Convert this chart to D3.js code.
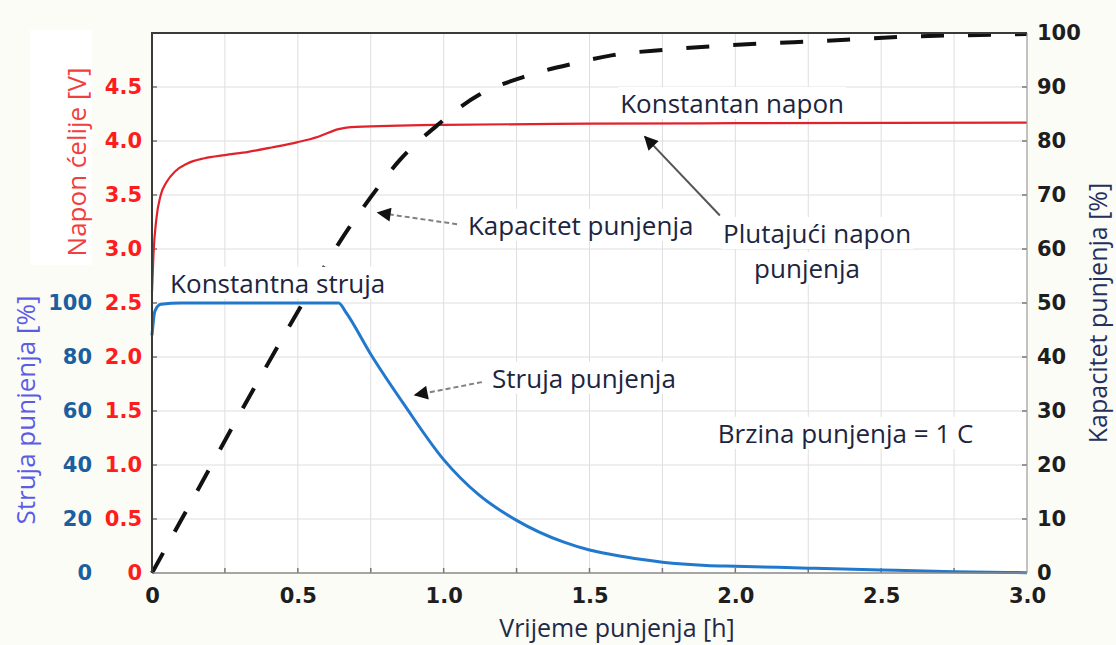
<!DOCTYPE html>
<html>
<head>
<meta charset="utf-8">
<script src="https://cdn.jsdelivr.net/npm/d3@7"></script>
<style>
  body { margin: 0; background: #fcfcf7; }
  svg { display: block; }
</style>
</head>
<body>
<div id="content"></div>
<script>
// napon celije [V] u ovisnosti o vremenu [h]
const voltageTime = [0, 0.005, 0.015, 0.03, 0.05, 0.08, 0.12, 0.18, 0.25, 0.33, 0.41, 0.5, 0.57, 0.64, 0.7, 1.0, 1.5, 2.0, 3.0];
const voltageValues = [2.6, 2.95, 3.28, 3.5, 3.62, 3.72, 3.79, 3.84, 3.87, 3.9, 3.94, 3.99, 4.04, 4.11, 4.13, 4.15, 4.16, 4.165, 4.17];

// struja punjenja [%]
const currentTime = [0, 0.01, 0.03, 0.1, 0.64, 0.665, 0.75, 0.87, 1.0, 1.12, 1.25, 1.41, 1.5, 1.62, 1.75, 1.9, 2.0, 2.25, 2.5, 2.75, 3.0];
const currentValues = [88, 97, 99.5, 100, 100, 96.5, 81, 61.5, 42, 29, 19.5, 11.5, 8.5, 6, 4, 2.8, 2.5, 1.8, 1.1, 0.5, 0.1];

// kapacitet punjenja [%]
const capacityTime = [0, 0.1, 0.2, 0.3, 0.47, 0.55, 0.64, 0.75, 0.85, 0.98, 1.12, 1.27, 1.45, 1.58, 1.76, 1.94, 2.11, 2.29, 2.46, 2.63, 2.8, 3.0];
const capacityValues = [0, 9.8, 19.6, 29.4, 45.6, 53, 61, 69.6, 76.5, 83, 88.5, 91.8, 94.4, 95.9, 96.9, 97.6, 98.1, 98.5, 99, 99.4, 99.6, 99.8];

// oznake osi
const timeTicks = [0, 0.5, 1.0, 1.5, 2.0, 2.5, 3.0];
const voltTicks = [0, 0.5, 1.0, 1.5, 2.0, 2.5, 3.0, 3.5, 4.0, 4.5];
const currentTicks = [0, 20, 40, 60, 80, 100];
const capacityTicks = [0, 10, 20, 30, 40, 50, 60, 70, 80, 90, 100];

// tekstovi na grafu (polozaj u [h] i [% kapaciteta])
const labelTexts = ["Konstantan napon", "Kapacitet punjenja", "Plutajući napon", "punjenja", "Konstantna struja", "Struja punjenja", "Brzina punjenja = 1 C"];
const labelTime = [1.605, 1.083, 1.958, 2.246, 0.062, 1.166, 1.94];
const labelCap = [85.2, 62.6, 61.1, 54.6, 51.9, 34.3, 24.1];
const labelAnchor = ["start", "start", "start", "middle", "start", "start", "start"];

// strelice: [t, vrijednost] od -> do
const arrowFrom = [[1.046, 64.6], [1.131, 70.7], [1.947, 3.31]];
const arrowTo = [[0.775, 66.7], [0.902, 65.9], [1.69, 4.04]];
const arrowAxis = ["cap", "cur", "volt"];
const arrowDashed = [true, true, false];

const width = 1116;
const height = 645;
const plotLeft = 152, plotRight = 1027, plotTop = 33, plotBottom = 573;

const x = d3.scaleLinear().domain([0, 3]).range([plotLeft, plotRight]);
const yVolt = d3.scaleLinear().domain([0, 5]).range([plotBottom, plotTop]);
const yCur = d3.scaleLinear().domain([0, 200]).range([plotBottom, plotTop]);
const yCap = d3.scaleLinear().domain([0, 100]).range([plotBottom, plotTop]);
const yByName = { cap: yCap, cur: yCur, volt: yVolt };

const svg = d3
  .select("#content")
  .append("svg")
  .attr("width", width)
  .attr("height", height);

svg.append("rect")
  .attr("x", 30).attr("y", 30).attr("width", 62).attr("height", 235)
  .attr("fill", "#ffffff");

svg.append("rect")
  .attr("x", plotLeft).attr("y", plotTop)
  .attr("width", plotRight - plotLeft).attr("height", plotBottom - plotTop)
  .attr("fill", "#ffffff");

// mreza
const gridX = d3.range(0.25, 3, 0.25);
const gridY = capacityTicks.slice(1, -1);

svg.append("g")
  .selectAll("line")
  .data(gridX)
  .enter()
  .append("line")
  .attr("x1", d => x(d)).attr("x2", d => x(d))
  .attr("y1", plotTop).attr("y2", plotBottom)
  .attr("stroke", "#dedede").attr("stroke-width", 1);

svg.append("g")
  .selectAll("line")
  .data(gridY)
  .enter()
  .append("line")
  .attr("x1", plotLeft).attr("x2", plotRight)
  .attr("y1", d => yCap(d)).attr("y2", d => yCap(d))
  .attr("stroke", "#dedede").attr("stroke-width", 1);

// male crtice na rubovima
const tickMarks = svg.append("g").attr("stroke", "#777").attr("stroke-width", 1.5);
gridY.forEach(d => {
  tickMarks.append("line").attr("x1", plotLeft).attr("x2", plotLeft + 5).attr("y1", yCap(d)).attr("y2", yCap(d));
  tickMarks.append("line").attr("x1", plotRight - 5).attr("x2", plotRight).attr("y1", yCap(d)).attr("y2", yCap(d));
});
gridX.forEach(d => {
  tickMarks.append("line").attr("x1", x(d)).attr("x2", x(d)).attr("y1", plotBottom - 5).attr("y2", plotBottom);
});

// krivulje
const currentData = currentTime.map((t, i) => ({ t: t, v: currentValues[i] }));
const voltageData = voltageTime.map((t, i) => ({ t: t, v: voltageValues[i] }));
const capacityData = capacityTime.map((t, i) => ({ t: t, v: capacityValues[i] }));

svg.append("path")
  .datum(currentData)
  .attr("fill", "none")
  .attr("stroke", "#2178cc")
  .attr("stroke-width", 3)
  .attr("d", d3.line().x(d => x(d.t)).y(d => yCur(d.v)).curve(d3.curveMonotoneX));

svg.append("path")
  .datum(voltageData)
  .attr("fill", "none")
  .attr("stroke", "#e0222b")
  .attr("stroke-width", 2.2)
  .attr("d", d3.line().x(d => x(d.t)).y(d => yVolt(d.v)).curve(d3.curveMonotoneX));

svg.append("path")
  .datum(capacityData)
  .attr("fill", "none")
  .attr("stroke", "#111")
  .attr("stroke-width", 4)
  .attr("stroke-dasharray", "23,24")
  .attr("d", d3.line().x(d => x(d.t)).y(d => yCap(d.v)).curve(d3.curveMonotoneX));

// okvir
svg.append("line").attr("x1", plotRight).attr("x2", plotRight).attr("y1", plotTop).attr("y2", plotBottom)
  .attr("stroke", "#999").attr("stroke-width", 1.2);
svg.append("line").attr("x1", plotLeft).attr("x2", plotRight).attr("y1", plotBottom).attr("y2", plotBottom)
  .attr("stroke", "#888").attr("stroke-width", 1.5);
svg.append("line").attr("x1", plotLeft - 1).attr("x2", plotRight).attr("y1", plotTop).attr("y2", plotTop)
  .attr("stroke", "#3a3a3a").attr("stroke-width", 2);
svg.append("line").attr("x1", plotLeft).attr("x2", plotLeft).attr("y1", plotTop).attr("y2", plotBottom)
  .attr("stroke", "#3a3a3a").attr("stroke-width", 2);

// osi
const fmt = d => (d === 0 ? "0" : d.toFixed(1));

function styleAxis(g, color) {
  g.select(".domain").remove();
  g.selectAll("text")
    .attr("fill", color)
    .style("font-family", "'DejaVu Sans', sans-serif")
    .style("font-weight", "bold")
    .style("font-size", "21px");
}

svg.append("g")
  .attr("transform", `translate(${plotLeft},0)`)
  .call(d3.axisLeft(yVolt).tickValues(voltTicks).tickFormat(fmt).tickSize(0).tickPadding(10))
  .call(g => styleAxis(g, "#ff1c1c"));

svg.append("g")
  .attr("transform", `translate(${plotLeft},0)`)
  .call(d3.axisLeft(yCur).tickValues(currentTicks).tickFormat(d3.format("d")).tickSize(0).tickPadding(60))
  .call(g => styleAxis(g, "#1b5f9f"));

svg.append("g")
  .attr("transform", `translate(${plotRight},0)`)
  .call(d3.axisRight(yCap).tickValues(capacityTicks).tickFormat(d3.format("d")).tickSize(0).tickPadding(10))
  .call(g => styleAxis(g, "#1e1e1e"));

svg.append("g")
  .attr("transform", `translate(0,${plotBottom})`)
  .call(d3.axisBottom(x).tickValues(timeTicks).tickFormat(fmt).tickSize(0).tickPadding(15))
  .call(g => styleAxis(g, "#1e1e1e"));

// naslovi osi
const titleFont = "'Open Sans', sans-serif";

svg.append("text")
  .attr("transform", "translate(86,162) rotate(-90)")
  .attr("text-anchor", "middle")
  .style("font-family", titleFont).style("font-size", "26px")
  .attr("fill", "#f0403c")
  .text("Napon ćelije [V]");

svg.append("text")
  .attr("transform", "translate(35,410) rotate(-90)")
  .attr("text-anchor", "middle")
  .style("font-family", titleFont).style("font-size", "26px")
  .attr("fill", "#5b5ce6")
  .text("Struja punjenja [%]");

svg.append("text")
  .attr("transform", "translate(1107,313) rotate(-90)")
  .attr("text-anchor", "middle")
  .style("font-family", titleFont).style("font-size", "25px")
  .attr("fill", "#24305e")
  .text("Kapacitet punjenja [%]");

svg.append("text")
  .attr("x", 617).attr("y", 637)
  .attr("text-anchor", "middle")
  .style("font-family", titleFont).style("font-size", "25px")
  .attr("fill", "#1f2a48")
  .text("Vrijeme punjenja [h]");

// strelice
svg.append("defs")
  .append("marker")
  .attr("id", "head")
  .attr("viewBox", "0 0 10 10")
  .attr("refX", 9).attr("refY", 5)
  .attr("markerWidth", 16).attr("markerHeight", 14)
  .attr("markerUnits", "userSpaceOnUse")
  .attr("orient", "auto")
  .append("path")
  .attr("d", "M0,0 L10,5 L0,10 Z")
  .attr("fill", "#111");

arrowFrom.forEach((from, i) => {
  const yS = yByName[arrowAxis[i]];
  svg.append("line")
    .attr("x1", x(from[0])).attr("y1", yS(from[1]))
    .attr("x2", x(arrowTo[i][0])).attr("y2", yS(arrowTo[i][1]))
    .attr("stroke", arrowDashed[i] ? "#808080" : "#555")
    .attr("stroke-width", 2)
    .attr("stroke-dasharray", arrowDashed[i] ? "5,3" : null)
    .attr("marker-end", "url(#head)");
});

// tekstovi s bijelom pozadinom
labelTexts.forEach((txt, i) => {
  const g = svg.append("g");
  const t = g.append("text")
    .attr("x", x(labelTime[i]))
    .attr("y", yCap(labelCap[i]))
    .attr("text-anchor", labelAnchor[i])
    .style("font-family", titleFont).style("font-size", "26px")
    .attr("fill", "#1c2540")
    .text(txt);
  const b = t.node().getBBox();
  g.insert("rect", "text")
    .attr("x", b.x - 2).attr("y", b.y + 2)
    .attr("width", b.width + 4).attr("height", b.height - 4)
    .attr("fill", "#ffffff");
});
</script>
</body>
</html>
